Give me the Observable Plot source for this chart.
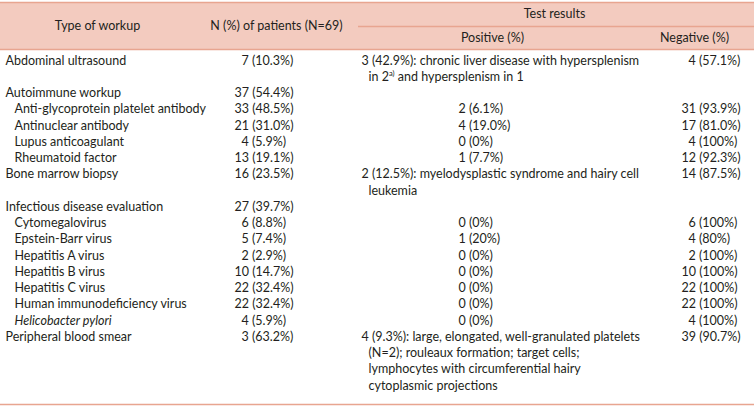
<!DOCTYPE html>
<html><head><meta charset="utf-8">
<script src="https://cdn.jsdelivr.net/npm/d3@7"></script>
<script src="https://cdn.jsdelivr.net/npm/@observablehq/plot@0.6"></script>
<style>body{margin:0;background:#fff}#chart svg{overflow:visible;display:block}</style>
</head><body><div id="chart"></div>
<script>
// ---- data ----
const headTop = ["Type of workup", "N (%) of patients (N=69)", "Test results"];
const headSub = ["Positive (%)", "Negative (%)"];
const workups = ["Abdominal ultrasound","Autoimmune workup","Anti-glycoprotein platelet antibody","Antinuclear antibody","Lupus anticoagulant","Rheumatoid factor","Bone marrow biopsy","Infectious disease evaluation","Cytomegalovirus","Epstein-Barr virus","Hepatitis A virus","Hepatitis B virus","Hepatitis C virus","Human immunodeficiency virus","Helicobacter pylori","Peripheral blood smear"];
const levels = [0,0,1,1,1,1,0,0,1,1,1,1,1,1,1,0];
const italic = [false,false,false,false,false,false,false,false,false,false,false,false,false,false,true,false];
const patients = ["7 (10.3%)","37 (54.4%)","33 (48.5%)","21 (31.0%)","4 (5.9%)","13 (19.1%)","16 (23.5%)","27 (39.7%)","6 (8.8%)","5 (7.4%)","2 (2.9%)","10 (14.7%)","22 (32.4%)","22 (32.4%)","4 (5.9%)","3 (63.2%)"];
const positive = [
  ["3 (42.9%): chronic liver disease with hypersplenism","in 2a) and hypersplenism in 1"],
  [],
  ["2 (6.1%)"],
  ["4 (19.0%)"],
  ["0 (0%)"],
  ["1 (7.7%)"],
  ["2 (12.5%): myelodysplastic syndrome and hairy cell","leukemia"],
  [],
  ["0 (0%)"],
  ["1 (20%)"],
  ["0 (0%)"],
  ["0 (0%)"],
  ["0 (0%)"],
  ["0 (0%)"],
  ["0 (0%)"],
  ["4 (9.3%): large, elongated, well-granulated platelets","(N=2); rouleaux formation; target cells;","lymphocytes with circumferential hairy","cytoplasmic projections"]
];
const negative = ["4 (57.1%)","","31 (93.9%)","17 (81.0%)","4 (100%)","12 (92.3%)","14 (87.5%)","","6 (100%)","4 (80%)","2 (100%)","10 (100%)","22 (100%)","22 (100%)","4 (100%)","39 (90.7%)"];

// ---- layout ----
const W = 754, H = 412, FIRST = 60, PITCH = 16.25;
const toLine = px => (px - FIRST) / PITCH;
const DIGIT = 7;
const lead = t => (t.match(/^\d+/) || [""])[0].length;
const FONT = "Lato";
const FS = 12.5;
const INK = "#231f20";
const HEAD_FILL = "#f3cbbf";
const RULE = "#e8a590";

let line = 0;
const labelRows = [], nRows = [], negRows = [], posRows = [];
workups.forEach((w, i) => {
  const n = Math.max(1, positive[i].length);
  labelRows.push({text: w, line, x: levels[i] ? 14 : 5, italic: italic[i]});
  nRows.push({text: patients[i], line, x: 234 + (2 - lead(patients[i])) * DIGIT});
  if (negative[i]) negRows.push({text: negative[i], line, x: 681 + (2 - lead(negative[i])) * DIGIT});
  const long = positive[i].length > 1 || (positive[i][0] || "").includes(":");
  positive[i].forEach((t, j) => posRows.push({text: t, line: line + j, x: long ? (j === 0 ? 361 : 368) : 458}));
  line += n;
});

const headText = [
  {text: headTop[0], x: 97, line: toLine(25)},
  {text: headTop[1], x: 276, line: toLine(25)},
  {text: headTop[2], x: 554, line: toLine(13.5)},
  {text: headSub[0], x: 492, line: toLine(37.5)},
  {text: headSub[1], x: 694, line: toLine(37.5)}
];
const rules = [
  {y: toLine(2), x1: 0, x2: W},
  {y: toLine(26), x1: 358, x2: W},
  {y: toLine(49), x1: 0, x2: W},
  {y: toLine(404), x1: 0, x2: W}
];

const common = {fontFamily: FONT, fontSize: FS, fill: INK, lineAnchor: "middle"};
const chart = Plot.plot({
  width: W, height: H,
  marginTop: 0, marginBottom: 0, marginLeft: 0, marginRight: 0,
  x: {type: "linear", domain: [0, W], range: [0, W], axis: null},
  y: {type: "linear", domain: [toLine(0), toLine(H)], range: [0, H], axis: null},
  style: {background: "#fff", overflow: "visible"},
  marks: [
    Plot.rect([{x1: 0, x2: W, y1: toLine(2), y2: toLine(49)}], {x1: "x1", x2: "x2", y1: "y1", y2: "y2", fill: HEAD_FILL}),
    Plot.ruleY(rules, {y: "y", x1: "x1", x2: "x2", stroke: RULE, strokeWidth: 1.3}),
    Plot.text(headText, {x: "x", y: "line", text: "text", textAnchor: "middle", ...common}),
    Plot.text(labelRows.filter(d => !d.italic), {x: "x", y: "line", text: "text", textAnchor: "start", ...common}),
    Plot.text(labelRows.filter(d => d.italic), {x: "x", y: "line", text: "text", textAnchor: "start", fontStyle: "italic", ...common}),
    Plot.text(nRows, {x: "x", y: "line", text: "text", textAnchor: "start", ...common}),
    Plot.text(posRows, {x: "x", y: "line", text: "text", textAnchor: "start", ...common}),
    Plot.text(negRows, {x: "x", y: "line", text: "text", textAnchor: "start", ...common})
  ]
});
document.getElementById("chart").appendChild(chart);

// superscript footnote marker
const NS = "http://www.w3.org/2000/svg";
chart.querySelectorAll("text").forEach(el => {
  if (el.textContent === "in 2a) and hypersplenism in 1") {
    const target = el.querySelector("tspan") || el;
    while (target.firstChild) target.removeChild(target.firstChild);
    const parts = [["in 2", null], ["a)", "sup"], [" and hypersplenism in 1", "back"]];
    parts.forEach(([t, k]) => {
      const s = document.createElementNS(NS, "tspan");
      s.textContent = t;
      if (k === "sup") { s.setAttribute("dy", "-4.5"); s.setAttribute("font-size", "7.5"); }
      if (k === "back") { s.setAttribute("dy", "4.5"); }
      target.appendChild(s);
    });
  }
});
</script>
</body></html>
